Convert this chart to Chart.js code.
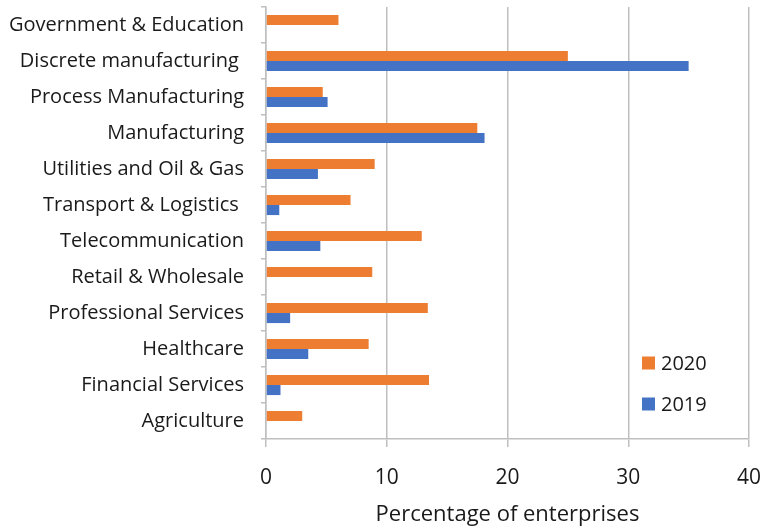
<!DOCTYPE html>
<html>
<head>
<meta charset="utf-8">
<script src="https://cdn.jsdelivr.net/npm/chart.js@4.4.1/dist/chart.umd.min.js"></script>
<style>
  html, body { margin: 0; padding: 0; background: #ffffff; }
  #wrap { width: 762px; height: 528px; }
</style>
</head>
<body>
<div id="wrap"><canvas id="c" width="762" height="528"></canvas></div>
<script>
// Industry sectors, listed top to bottom
const sectors = [
  'Government & Education',
  'Discrete manufacturing ',
  'Process Manufacturing',
  'Manufacturing',
  'Utilities and Oil & Gas',
  'Transport & Logistics ',
  'Telecommunication',
  'Retail & Wholesale',
  'Professional Services',
  'Healthcare',
  'Financial Services',
  'Agriculture'
];

// Share of enterprises (%) per sector
const share2020 = [6.0, 25.0, 4.7, 17.5, 9.0, 7.0, 12.9, 8.8, 13.4, 8.5, 13.5, 3.0];
const share2019 = [0, 35.0, 5.1, 18.1, 4.3, 1.1, 4.5, 0, 2.0, 3.5, 1.2, 0];

const xTicks = [0, 10, 20, 30, 40];
const xTitle = 'Percentage of enterprises';

const FONT = "'Open Sans', sans-serif";
const TEXT = '#1a1a1a';
const GRID = '#bfbfbf';

// Vertical legend drawn inside the plot area, lower right
const innerLegend = {
  id: 'innerLegend',
  afterDraw(chart) {
    const { ctx, chartArea } = chart;
    const sets = chart.data.datasets;
    ctx.save();
    ctx.font = "20px " + FONT;
    ctx.textBaseline = 'middle';
    ctx.textAlign = 'left';
    const x0 = chartArea.right - 107;
    let y = chartArea.bottom - 76;
    sets.forEach(ds => {
      ctx.fillStyle = ds.backgroundColor;
      ctx.fillRect(x0, y - 6.5, 13, 13);
      ctx.fillStyle = TEXT;
      ctx.fillText(ds.label, x0 + 19, y + 1);
      y += 41;
    });
    ctx.restore();
  }
};

new Chart(document.getElementById('c'), {
  type: 'bar',
  data: {
    labels: sectors,
    datasets: [
      { label: '2020', data: share2020, backgroundColor: '#ED7D31', borderWidth: 0 },
      { label: '2019', data: share2019, backgroundColor: '#4472C4', borderWidth: 0 }
    ]
  },
  options: {
    indexAxis: 'y',
    responsive: false,
    animation: false,
    devicePixelRatio: 1,
    layout: { padding: { top: 7, right: 13, left: 0, bottom: 0 } },
    datasets: { bar: { categoryPercentage: 0.56, barPercentage: 1.0 } },
    plugins: {
      legend: { display: false },
      tooltip: { enabled: false }
    },
    scales: {
      x: {
        min: 0,
        max: 40,
        afterBuildTicks(scale) { scale.ticks = xTicks.map(v => ({ value: v })); },
        afterFit(scale) {
          scale.height = 89;
          scale.paddingLeft = 0;
          scale.paddingRight = 0;
        },
        grid: {
          color: GRID,
          lineWidth: 1.5,
          drawTicks: true,
          tickLength: 8,
          tickColor: GRID
        },
        border: { display: true, color: GRID, width: 1.5 },
        ticks: {
          color: TEXT,
          font: { family: FONT, size: 21 },
          padding: 18,
          maxRotation: 0
        },
        title: {
          display: true,
          text: xTitle,
          color: TEXT,
          font: { family: FONT, size: 22 },
          padding: { top: 0, bottom: 0 }
        }
      },
      y: {
        afterFit(scale) {
          scale.width = 266;
          scale.paddingTop = 0;
          scale.paddingBottom = 0;
        },
        grid: {
          offset: true,
          drawOnChartArea: false,
          drawTicks: true,
          tickLength: 5,
          tickColor: GRID,
          lineWidth: 1.5
        },
        border: { display: true, color: GRID, width: 1.5 },
        ticks: {
          color: TEXT,
          font: { family: FONT, size: 20 },
          padding: 17,
          autoSkip: false
        }
      }
    }
  },
  plugins: [innerLegend]
});
</script>
</body>
</html>
